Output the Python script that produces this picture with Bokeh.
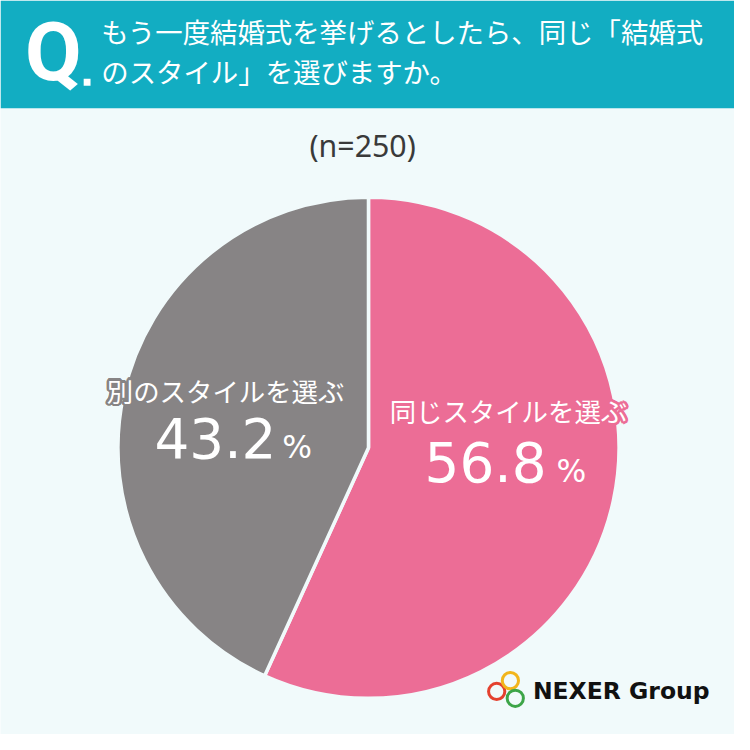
import math
from bokeh.plotting import figure
from bokeh.models import Range1d
from bokeh.core.properties import value
from bokeh.embed import file_html
from bokeh.resources import INLINE

# ---- data ----
question_lines = ["もう一度結婚式を挙げるとしたら、同じ「結婚式", "のスタイル」を選びますか。"]
sample_label = "(n=250)"
categories = ["同じスタイルを選ぶ", "別のスタイルを選ぶ"]
values = [56.8, 43.2]
slice_colors = ["#EC6D96", "#878485"]
brand = "NEXER Group"

BG = "#F1FAFB"
TEAL = "#12ADC2"
JP = "Noto Sans CJK JP"
W = 734
S = W / 750.0


def fs(n):
    return f"{n * S:.1f}px"


def Y(py):
    return 750 - py


p = figure(width=W, height=W, x_range=Range1d(0, 750), y_range=Range1d(0, 750),
           output_backend="svg", toolbar_location=None, x_axis_type=None, y_axis_type=None,
           min_border=0, background_fill_color=BG, border_fill_color=BG)
p.grid.visible = False
p.outline_line_color = None

# header band
p.quad(left=[0], right=[750], bottom=[Y(110)], top=[750], fill_color=TEAL, line_color=None)
p.text(x=[25], y=[Y(53)], text=["Q"], text_font=value("Roboto"), text_font_style="bold",
       text_font_size=fs(84), text_color="white", text_align="left", text_baseline="alphabetic")
p.rect(x=[88.5], y=[Y(83.5)], width=7, height=7, fill_color="white", line_color=None)
p.text(x=[103, 103], y=[Y(31), Y(72)], text=question_lines, text_font=value(JP),
       text_font_size=fs(28), text_color="white", text_align="left", text_baseline="middle")

# sample size
p.text(x=[370], y=[Y(148)], text=[sample_label], text_font=value("Noto Sans"),
       text_font_size=fs(31), text_color="#3A3A3A", text_align="center", text_baseline="alphabetic")

# pie
cx, cy, r = 376, Y(457), 256
total = sum(values)
start = math.pi / 2
for v, c in zip(values, slice_colors):
    end = start - 2 * math.pi * v / total
    p.wedge(x=[cx], y=[cy], radius=r, start_angle=end, end_angle=start, direction="anticlock",
            fill_color=c, line_color=BG, line_width=3.5)
    start = end

# labels
label_pos = [(519, Y(419)), (230, Y(398))]
num_pos = [(558, 493), (282, 468)]
pct_x = [568, 288]
NUM_FS, PCT_FS = 56, 32
for cat, v, c, (lx, ly), (nx, nb), px in zip(categories, values, slice_colors, label_pos, num_pos, pct_x):
    xs, ys, xo, yo = [], [], [], []
    for k in range(16):
        a = 2 * math.pi * k / 16
        xs.append(lx); ys.append(ly)
        xo.append(2.6 * math.cos(a)); yo.append(2.6 * math.sin(a))
    p.text(x=xs, y=ys, text=[cat] * len(xs), x_offset=xo, y_offset=yo, text_font=value(JP),
           text_font_size=fs(27), text_color=c, text_align="center", text_baseline="middle")
    p.text(x=[lx], y=[ly], text=[cat], text_font=value(JP), text_font_size=fs(27),
           text_color="white", text_align="center", text_baseline="middle")
    p.text(x=[nx], y=[Y(nb - 0.38 * NUM_FS)], text=[f"{v}"], text_font=value("DejaVu Sans"),
           text_font_size=fs(NUM_FS), text_color="white", text_align="right", text_baseline="alphabetic")
    p.text(x=[px], y=[Y(nb - 0.38 * PCT_FS)], text=["%"], text_font=value("DejaVu Sans"),
           text_font_size=fs(PCT_FS), text_color="white", text_align="left", text_baseline="alphabetic")

# logo
p.circle(x=[507, 521, 526], y=[Y(706), Y(695), Y(713)], radius=8.3, fill_color=None,
         line_color=["#E4412F", "#F2B51B", "#3DA548"], line_width=3)
p.text(x=[544], y=[Y(715 - 9)], text=[brand], text_font=value("DejaVu Sans"), text_font_style="bold",
       text_font_size=fs(24), text_color="#111111", text_align="left", text_baseline="alphabetic")

open("out.html", "w").write(file_html(p, INLINE))
